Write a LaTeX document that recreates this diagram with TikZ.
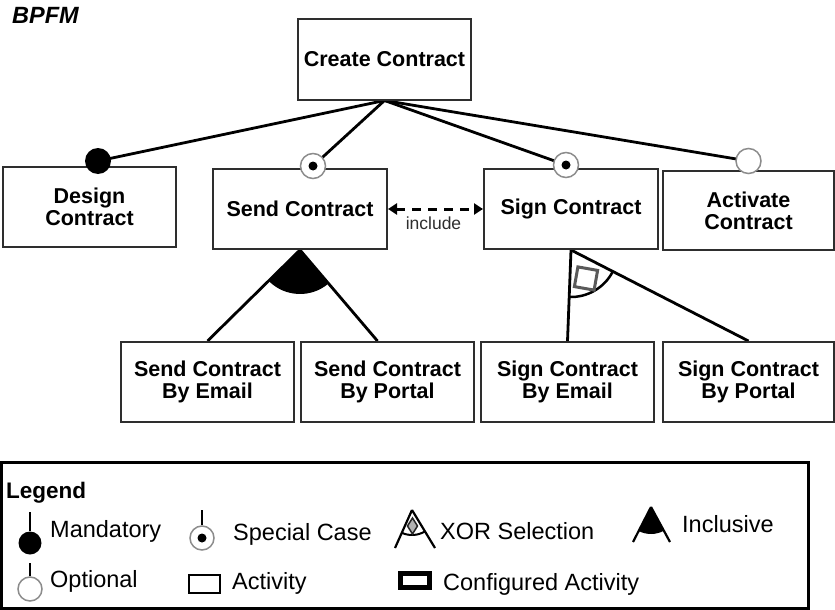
\documentclass[tikz,border=0pt]{standalone}
\usepackage{fontspec}
\setmainfont{Liberation Sans}
\usetikzlibrary{arrows.meta,calc}
\definecolor{boxgray}{HTML}{2E2E2E}
\definecolor{ringgray}{HTML}{8C8C8C}
\definecolor{sqgray}{HTML}{5A5A5A}
\newcommand\bxfont{\bfseries\fontsize{21.5}{22}\selectfont}
\newcommand\lgfont{\fontsize{23.5}{26}\selectfont}
\pgfdeclarelayer{back}
\pgfdeclarelayer{bg}
\pgfsetlayers{back,bg,main}
\begin{document}
\begin{tikzpicture}[x=1pt,y=-1pt,
 box/.style={draw=boxgray,line width=2pt,fill=white,minimum width=173pt,minimum height=80pt,inner sep=0pt,align=center,font=\bxfont},
 conn/.style={line width=2.8pt,black},
 ring/.style={circle,draw=ringgray,line width=1.5pt,fill=white,minimum size=25pt,inner sep=0pt},
 soliddot/.style={circle,fill=black,minimum size=26pt,inner sep=0pt},
 lgtext/.style={anchor=base west,inner sep=0pt,font=\lgfont},
 lgline/.style={line width=2pt,black}
]
\useasboundingbox (0,0) rectangle (835,610);

\node[anchor=base west,inner sep=0pt,font=\bfseries\itshape\fontsize{23.5}{25}\selectfont] (title) at (12,24) {BPFM};

% boxes
\node[box] (cc) at (384.5,59.5) {Create Contract};
\node[box] (dc) at (89.5,207) {Design\\Contract};
\node[box,minimum width=174pt] (sc) at (300,209) {Send Contract};
\node[box,minimum width=174pt] (sg) at (571,209) {Sign Contract};
\node[box,minimum width=171pt,minimum height=79pt] (ac) at (748.5,210.5) {Activate\\Contract};
\node[box] (se) at (207.5,382) {Send Contract\\By Email};
\node[box] (sp) at (387.5,382) {Send Contract\\By Portal};
\node[box] (ge) at (567.5,382) {Sign Contract\\By Email};
\node[box,minimum width=171pt] (gp) at (748.5,382) {Sign Contract\\By Portal};

% connector circles
\node[soliddot] (m1) at (98,161) {};
\node[ring] (s1) at (313,166) {};
\fill (s1.center) circle[radius=4.5];
\node[ring] (s2) at (566,165) {};
\fill (s2.center) circle[radius=4.5];
\node[ring] (o1) at (748.5,161) {};

\begin{pgfonlayer}{bg}
\draw[conn] (cc.south) -- (m1.center);
\draw[conn] (cc.south) -- (s1.center);
\draw[conn] (cc.south) -- (s2.center);
\draw[conn] (cc.south) -- (o1.center);
% inclusive group
\draw[conn] (sc.south) -- (se.north);
\draw[conn] (sc.south) -- ([xshift=-10pt]sp.north);
% xor group
\draw[conn] (sg.south) -- (ge.north);
\draw[conn] (sg.south) -- (gp.north);
\end{pgfonlayer}

\begin{pgfonlayer}{back}
\fill[white] (sg.south) -- ++(27.65:47) arc[start angle=27.65,end angle=92.2,radius=47] -- cycle;
\end{pgfonlayer}
\draw[line width=2.5pt] ($(sg.south)+(27.65:47)$) arc[start angle=27.65,end angle=92.2,radius=47];
\draw[sqgray,line width=3pt,line join=miter] (577.9,266.9) -- (597.6,270.4) -- (594.1,290.1) -- (574.4,286.6) -- cycle;

\fill (sc.south) -- ++(50.2:44) arc[start angle=50.2,end angle=134.8,radius=44] -- cycle;

% include
\draw[line width=3pt,dash pattern=on 9pt off 7pt,{Triangle[length=9pt,width=11pt]}-{Triangle[length=9pt,width=11pt]}] (sc.east) -- (sg.west);
\node[font=\fontsize{17.5}{18}\selectfont,text=boxgray,inner sep=0pt] (inc) at (433.5,223.5) {include};

% legend
\node[draw=black,line width=3pt,minimum width=806.5pt,minimum height=146pt,inner sep=0pt] (lg) at (404.75,535) {};
\node[anchor=base west,inner sep=0pt,font=\bfseries\fontsize{22.5}{24}\selectfont] (lgt) at (6,498.5) {Legend};

\node[soliddot,minimum size=23pt] (lm) at (30,543) {};
\coordinate (lmt) at (30,512);
\draw[lgline] (lmt) -- (lm.north);
\node[lgtext] (lmx) at (50,537) {Mandatory};

\node[ring,minimum size=24pt] (ls) at (202,538) {};
\fill (ls.center) circle[radius=4.5];
\coordinate (lst) at (202,510);
\draw[lgline] (lst) -- (ls.north);
\node[lgtext] (lsx) at (233,540) {Special Case};

\node[ring,minimum size=24pt] (lo) at (30,589) {};
\coordinate (lot) at (30,563);
\draw[lgline] (lot) -- (lo.north);
\node[lgtext] (lox) at (50,587) {Optional};

\node[draw=black,line width=1.5pt,minimum width=31pt,minimum height=18pt,inner sep=0pt] (la) at (204.5,584) {};
\node[lgtext] (lax) at (232,589) {Activity};

\coordinate (lxa) at (412,510);
\coordinate (lxl) at (395,548);
\coordinate (lxr) at (435,548);
\draw[line width=2pt] ($(lxa)+(58.8:25)$) arc[start angle=58.8,end angle=114.1,radius=25];
\draw[lgline,line width=2.2pt] (lxa) -- (lxl);
\draw[lgline,line width=2.2pt] (lxa) -- (lxr);
\draw[fill=gray!60,draw=black!85,line width=1.5pt] (412.5,518) -- (417.5,526) -- (412.5,534) -- (407.5,526) -- cycle;
\node[lgtext] (lxx) at (440,539) {XOR Selection};

\node[draw=black,line width=5pt,minimum width=29pt,minimum height=14pt,inner sep=0pt] (lc) at (415,580.5) {};
\node[lgtext] (lcx) at (443,590) {Configured Activity};

\coordinate (lia) at (651,507);
\coordinate (lil) at (633,542);
\coordinate (lir) at (670,542);
\fill (lia) -- ++(61.5:27) arc[start angle=61.5,end angle=117.2,radius=27] -- cycle;
\draw[lgline,line width=2.2pt] (lia) -- (lil);
\draw[lgline,line width=2.2pt] (lia) -- (lir);
\node[lgtext] (lix) at (682,532) {Inclusive};
\end{tikzpicture}
\end{document}
